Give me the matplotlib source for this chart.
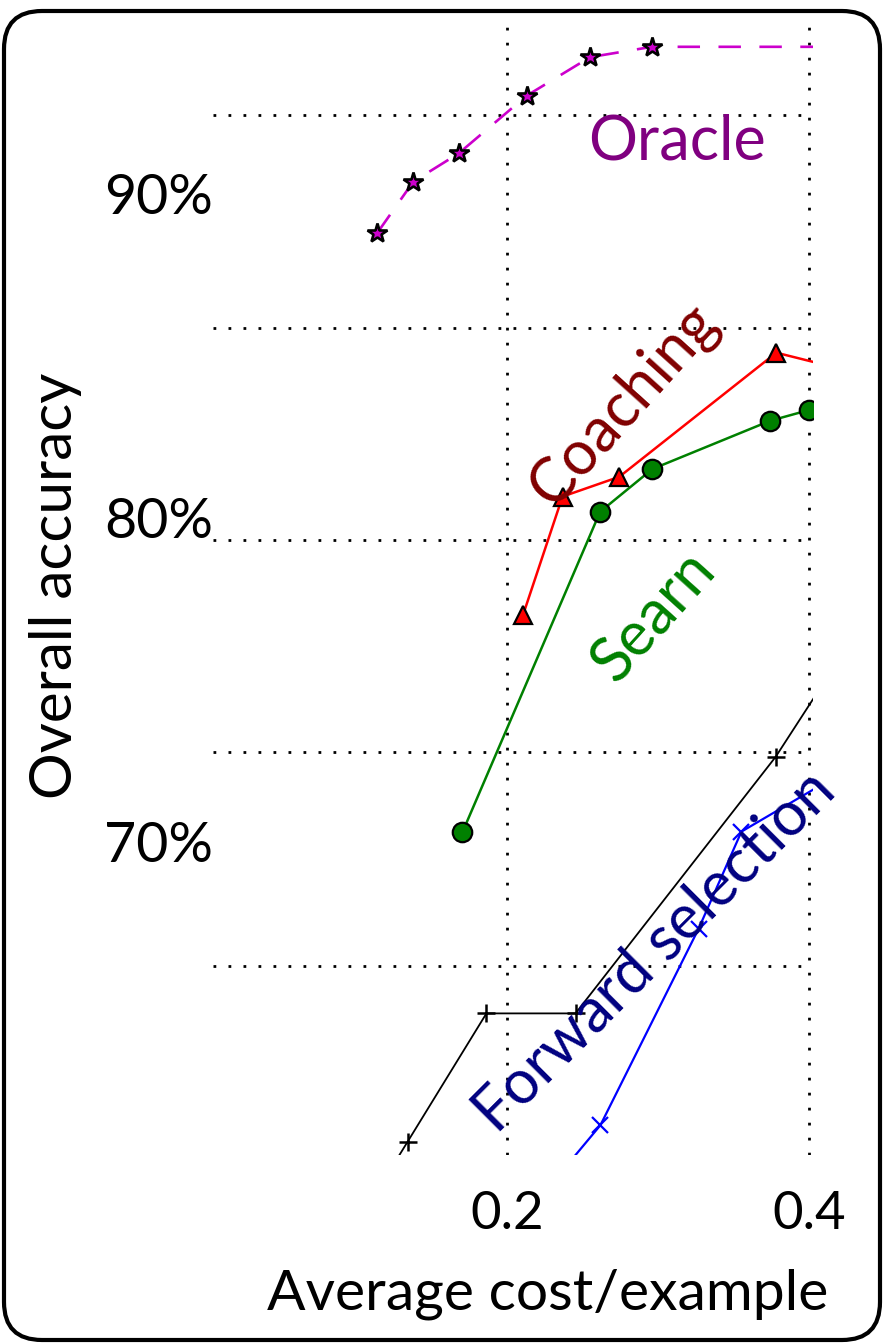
import matplotlib
matplotlib.use("Agg")
import matplotlib.pyplot as plt
from matplotlib.patches import FancyBboxPatch

plt.rcParams['font.family'] = ['Lato', 'DejaVu Sans']

# ---- data -------------------------------------------------------------
oracle_cost = [0.114, 0.138, 0.168, 0.213, 0.255, 0.296, 0.45]
oracle_acc = [88.77, 90.36, 91.23, 93.01, 94.20, 94.52, 94.52]

coaching_cost = [0.2106, 0.2368, 0.2744, 0.3784, 0.43]
coaching_acc = [76.98, 80.64, 81.25, 85.08, 84.48]

searn_cost = [0.1705, 0.2617, 0.2963, 0.3744, 0.400]
searn_acc = [70.28, 80.17, 81.49, 82.98, 83.31]

greedy_cost = [0.110, 0.1342, 0.1864, 0.2454, 0.378, 0.42]
greedy_acc = [58.90, 60.73, 64.69, 64.69, 72.61, 75.63]

forward_cost = [0.220, 0.2619, 0.327, 0.3553, 0.44]
forward_acc = [58.90, 61.24, 67.31, 70.30, 72.61]

x_ticks = [0.2, 0.4]
x_tick_labels = ['0.2', '0.4']
y_ticks = [70, 80, 90]
y_tick_labels = ['70%', '80%', '90%']
y_grid = [66.15, 72.76, 79.30, 85.84, 92.42]

# ---- figure -----------------------------------------------------------
W, H = 889, 1343
fig = plt.figure(figsize=(W / 100, H / 100), dpi=100)
fig.patch.set_facecolor('white')

ax = fig.add_axes([213 / W, 1 - 1155 / H, 600 / W, (1155 - 17) / H])
ax.set_xlim(0.0053, 0.4027)
ax.set_ylim(60.32, 95.44)
for s in ax.spines.values():
    s.set_visible(False)

# grid: vertical at labelled x ticks, horizontal at minor y ticks
dot = (0, (1.0, 4.4))
ax.set_xticks(x_ticks)
ax.set_xticklabels(x_tick_labels)
ax.set_yticks(y_ticks)
ax.set_yticklabels(y_tick_labels)
ax.set_yticks(y_grid, minor=True)
ax.grid(True, axis='x', which='major', color='black', linestyle=dot, linewidth=2.0)
ax.grid(True, axis='y', which='minor', color='black', linestyle=dot, linewidth=2.0)
ax.tick_params(axis='both', which='both', length=0)
ax.tick_params(axis='x', labelsize=38, pad=26)
ax.tick_params(axis='y', labelsize=40, pad=0)
ax.set_axisbelow(True)

# ---- series -----------------------------------------------------------
ax.plot(greedy_cost, greedy_acc, color='black', linewidth=1.3,
        marker='+', markersize=13, markeredgewidth=1.8, zorder=3)
ax.plot(forward_cost, forward_acc, color='#0000ff', linewidth=1.6,
        marker='x', markersize=12, markeredgewidth=1.6, zorder=3)
ax.plot(searn_cost, searn_acc, color='#008000', linewidth=1.8,
        marker='o', markersize=14, markerfacecolor='#008000',
        markeredgecolor='black', markeredgewidth=1.6, zorder=4)
ax.plot(coaching_cost, coaching_acc, color='#ff0000', linewidth=1.8,
        marker='^', markersize=13, markerfacecolor='#ff0000',
        markeredgecolor='black', markeredgewidth=1.6, zorder=5)
ax.plot(oracle_cost, oracle_acc, color='#cc00cc', linewidth=1.9,
        linestyle=(0, (8.5, 7)), marker='*', markersize=15,
        markerfacecolor='#cc00cc', markeredgecolor='black',
        markeredgewidth=1.9, zorder=5)

# ---- series names -----------------------------------------------------
ax.text(0.3124, 91.58, 'Oracle', color='#800080', fontsize=44,
        ha='center', va='center')
ax.text(0.2773, 83.47, 'Coaching', color='#800000', fontsize=44,
        ha='center', va='center', rotation=48, rotation_mode='anchor', zorder=6)
ax.text(0.2978, 76.93, 'Searn', color='#008000', fontsize=44,
        ha='center', va='center', rotation=48, rotation_mode='anchor', zorder=6)
ax.text(0.2978, 66.59, 'Forward selection', color='#000080', fontsize=44,
        ha='center', va='center', rotation=45, rotation_mode='anchor', zorder=6)

# ---- axis labels ------------------------------------------------------
ax.set_xlabel('Average cost/example', fontsize=41)
ax.xaxis.set_label_coords((548 - 213) / 600, -(1268 - 1155) / 1138)
ax.set_ylabel('Overall accuracy', fontsize=42)
ax.yaxis.set_label_coords(-(213 - 82) / 600, 0.5)

# ---- rounded frame around the whole figure ----------------------------
frame_ax = fig.add_axes([0, 0, 1, 1], zorder=-1)
frame_ax.set_xlim(0, W)
frame_ax.set_ylim(H, 0)
frame_ax.axis('off')
frame_ax.add_patch(FancyBboxPatch((4, 11), 876, 1329,
                                  boxstyle='round,pad=0,rounding_size=38',
                                  facecolor='white', edgecolor='black',
                                  linewidth=3.0))

fig.savefig('out.png', dpi=100)
